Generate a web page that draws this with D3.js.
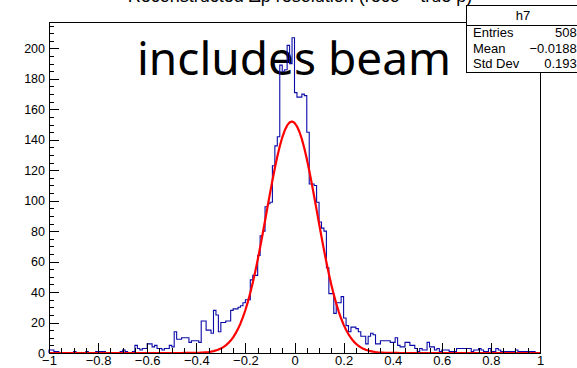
<!DOCTYPE html>
<html>
<head>
<meta charset="utf-8">
<script src="https://cdn.jsdelivr.net/npm/d3@7"></script>
<style>
  html, body { margin: 0; padding: 0; background: #fff; }
  svg { display: block; }
</style>
</head>
<body>
<svg id="chart" width="577" height="368"></svg>
<script>
// ---- data ----
const xRange = [-1, 1];
const counts = [
  2,2,1,1,0,0,0,0,0,0,
  1,0,0,0,0,1,0,0,0,1,
  1,1,1,0,0,0,0,0,0,1,
  2,1,0,0,1,5,3,2,3,3,
  6,6,4,5,3,3,2,3,3,5,
  4,14,9,9,10,10,10,7,8,8,
  8,7,21,21,15,15,13,28,25,14,
  20,20,21,21,28,29,29,30,31,33,
  35,35,48,51,51,64,77,80,96,98,
  99,123,136,142,189,185,186,202,190,207,
  171,168,168,170,169,145,111,111,110,99,
  86,82,80,56,39,39,26,33,33,37,
  23,18,14,17,17,16,14,11,11,6,
  11,13,12,6,6,8,8,8,8,7,
  7,10,5,4,4,7,7,5,5,3,
  1,3,2,2,7,4,4,2,3,1,
  2,2,2,1,1,1,3,3,3,3,
  3,3,1,2,2,3,2,1,1,3,
  1,1,3,2,1,1,1,1,1,1,
  2,1,1,1,1,1,1,1,0,0
];
// Gaussian fit parameters: constant, mean, sigma
const fitParams = [152, -0.011, 0.103];
const xTicks = [-1, -0.8, -0.6, -0.4, -0.2, 0, 0.2, 0.4, 0.6, 0.8, 1];
const yTicks = [0, 20, 40, 60, 80, 100, 120, 140, 160, 180, 200];
const statsLabels = ["Entries", "Mean", "Std Dev"];
const statsValues = ["5080", "\u22120.01883", "0.1933"];
const histName = "h7";
const titleText = "Reconstructed \u0394p resolution (reco \u2212 true p)";
const annotation = "includes beam";

// ---- layout ----
const svg = d3.select("#chart");
const L = 49, R = 540, T = 22, B = 353;
const yMax = 1.05 * d3.max(counts);
const x = d3.scaleLinear().domain(xRange).range([L, R]);
const y = d3.scaleLinear().domain([0, yMax]).range([B, T]);
const nb = counts.length;
const bw = (xRange[1] - xRange[0]) / nb;
const fmt = v => (v < 0 ? "\u2212" : "") + d3.format("")(Math.abs(Math.round(v * 10) / 10));
const FONT = "Liberation Sans, Arial, sans-serif";

svg.append("rect").attr("width", 577).attr("height", 368).attr("fill", "#fff");

// title (mostly above the canvas, as in the reference)
svg.append("text").attr("x", 300).attr("y", 2)
  .attr("text-anchor", "middle")
  .attr("font-family", FONT)
  .attr("font-size", 18).attr("fill", "#000").text(titleText);

// big annotation
svg.append("text").attr("x", 137).attr("y", 75)
  .attr("font-family", "Noto Sans, Open Sans, sans-serif")
  .attr("font-size", 46).attr("fill", "#000").text(annotation);

// histogram outline
const pts = [[xRange[0], 0]];
counts.forEach((c, i) => {
  const lo = xRange[0] + i * bw;
  pts.push([lo, c], [lo + bw, c]);
});
pts.push([xRange[1], 0]);
const line = d3.line().x(d => x(d[0])).y(d => y(d[1]));
svg.append("path").attr("d", line(pts))
  .attr("fill", "none").attr("stroke", "#0a0aa8").attr("stroke-width", 1.1);

// fit curve
const [c0, mu, sg] = fitParams;
const fxs = d3.range(0, 201).map(i => xRange[0] + i * (xRange[1] - xRange[0]) / 200);
const fpts = fxs.map(v => [v, c0 * Math.exp(-0.5 * ((v - mu) / sg) ** 2)]);
svg.append("path").attr("d", line(fpts))
  .attr("fill", "none").attr("stroke", "#ff0000").attr("stroke-width", 2.2)
  .attr("stroke-linejoin", "round");

// frame
svg.append("rect").attr("x", L).attr("y", T).attr("width", R - L).attr("height", B - T)
  .attr("fill", "none").attr("stroke", "#000").attr("stroke-width", 1)
  .attr("shape-rendering", "crispEdges");

// x axis
const xMinor = d3.range(-20, 21).map(i => i * 0.05).filter(v => !xTicks.some(t => Math.abs(t - v) < 1e-9));
const gxMinor = svg.append("g").attr("transform", `translate(0,${B})`)
  .call(d3.axisBottom(x).tickValues(xMinor).tickSize(-5).tickFormat(""));
const gx = svg.append("g").attr("transform", `translate(0,${B})`)
  .call(d3.axisBottom(x).tickValues(xTicks).tickSize(-10).tickPadding(3).tickFormat(fmt));
[gx, gxMinor].forEach(g => {
  g.select(".domain").remove();
  g.selectAll("line").attr("stroke", "#000").attr("shape-rendering", "crispEdges");
});
gx.selectAll("text").attr("font-family", FONT)
  .attr("font-size", 13).attr("fill", "#000");

// y axis
const yMinor = d3.range(0, 44).map(i => i * 5).filter(v => v <= yMax && v % 20 !== 0);
const gyMinor = svg.append("g").attr("transform", `translate(${L},0)`)
  .call(d3.axisLeft(y).tickValues(yMinor).tickSize(-5).tickFormat(""));
const gy = svg.append("g").attr("transform", `translate(${L},0)`)
  .call(d3.axisLeft(y).tickValues(yTicks).tickSize(-10).tickPadding(4).tickFormat(d3.format("d")));
[gy, gyMinor].forEach(g => {
  g.select(".domain").remove();
  g.selectAll("line").attr("stroke", "#000").attr("shape-rendering", "crispEdges");
});
gy.selectAll("text").attr("font-family", FONT)
  .attr("font-size", 12.5).attr("fill", "#000");

// stats box
const sb = { x: 466, y: 5, w: 114, h: 67, head: 20 };
const gs = svg.append("g");
gs.append("rect").attr("x", sb.x).attr("y", sb.y).attr("width", sb.w).attr("height", sb.h)
  .attr("fill", "#fff").attr("stroke", "#000").attr("shape-rendering", "crispEdges");
gs.append("line").attr("x1", sb.x).attr("x2", sb.x + sb.w)
  .attr("y1", sb.y + sb.head).attr("y2", sb.y + sb.head)
  .attr("stroke", "#000").attr("shape-rendering", "crispEdges");
gs.append("text").attr("x", sb.x + sb.w / 2).attr("y", sb.y + 15)
  .attr("text-anchor", "middle").attr("font-family", FONT)
  .attr("font-size", 13).text(histName);
statsLabels.forEach((lab, i) => {
  const by = sb.y + sb.head + 12 + i * 15.5;
  gs.append("text").attr("x", sb.x + 7).attr("y", by)
    .attr("font-family", FONT).attr("font-size", 13).text(lab);
  gs.append("text").attr("x", 584).attr("y", by).attr("text-anchor", "end")
    .attr("font-family", FONT).attr("font-size", 13).text(statsValues[i]);
});
</script>
</body>
</html>
